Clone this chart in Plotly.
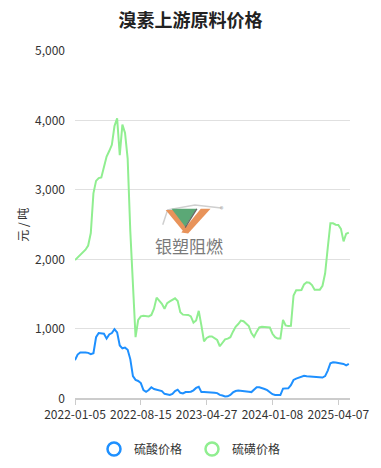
import plotly.graph_objects as go

title_text = "溴素上游原料价格"
y_axis_title = "元 / 吨"
tick_labels = ["2022-01-05", "2022-08-15", "2023-04-27", "2024-01-08", "2025-04-07"]
tick_positions = [0, 25, 50, 75, 100]
series_names = ["硫酸价格", "硫磺价格"]

sulfuric_acid = [550, 630, 660, 665, 660, 655, 635, 650, 880, 940,
                 940, 930, 860, 920, 940, 995, 950, 760, 720, 730,
                 700, 565, 320, 265, 250, 220, 120, 95, 120, 160,
                 135, 125, 120, 105, 65, 55, 50, 65, 105, 125,
                 80, 70, 90, 90, 95, 115, 150, 165, 90, 90,
                 90, 88, 85, 82, 75, 50, 40, 28, 30, 50,
                 85, 105, 112, 110, 105, 100, 95, 90, 120, 158,
                 158, 150, 135, 118, 90, 60, 48, 48, 48, 140,
                 142, 145, 190, 265, 285, 300, 310, 325, 318, 315,
                 315, 315, 310, 302, 300, 320, 400, 505, 520, 515,
                 508, 505, 495, 475, 495]

sulfur = [1990, 2030, 2060, 2100, 2140, 2200, 2380, 2950, 3130, 3170,
          3180, 3330, 3480, 3560, 3650, 3920, 4030, 3500, 3940, 3820,
          3450, 2410, 1680, 880, 1130, 1180, 1190, 1190, 1180, 1200,
          1290, 1450, 1400, 1360, 1290, 1370, 1395, 1420, 1440, 1400,
          1240, 1205, 1200, 1200, 1180, 1090, 1120, 1260, 1050, 820,
          870, 890, 890, 870, 840, 750, 810, 850, 860, 880,
          960, 1030, 1070, 1120, 1110, 1080, 1040, 940, 885, 960,
          1020, 1030, 1030, 1030, 1020, 930, 880, 860, 860, 1130,
          1050, 1040, 1045, 1480, 1555, 1555, 1560, 1640, 1670, 1665,
          1630, 1565, 1565, 1565, 1620, 1800, 2170, 2520, 2520, 2500,
          2495, 2440, 2260, 2370, 2385]

colors = ["#1E90FF", "#90EE90"]
FONT = "Noto Sans CJK SC, Noto Sans, sans-serif"

W, H = 381, 468
# plot area in pixels
L, R, T, B = 75, 357, 51, 403


def pp(x, y):
    return (x - L) / (R - L), (B - y) / (B - T)


def path(points, close=True):
    s = ""
    for k, (x, y) in enumerate(points):
        px_, py_ = pp(x, y)
        s += ("M" if k == 0 else "L") + f"{px_:.4f},{py_:.4f} "
    return s + ("Z" if close else "")


fig = go.Figure()
idx = list(range(len(sulfur)))
for name, vals, c in zip(series_names, [sulfuric_acid, sulfur], colors):
    fig.add_trace(go.Scatter(x=idx, y=vals, mode="lines", name=name,
                             line=dict(color=c, width=2), showlegend=False))
    fig.add_trace(go.Scatter(x=[None], y=[None], mode="markers", name=name,
                             marker=dict(symbol="circle-open", size=13,
                                         color=c, line=dict(width=2.5, color=c))))

shapes = []
# watermark logo
shapes.append(dict(type="path", xref="paper", yref="paper",
                   path=path([(165, 227), (170, 212), (198, 207), (225, 210)], close=False),
                   line=dict(color="#cfcfcf", width=1.5)))
shapes.append(dict(type="path", xref="paper", yref="paper",
                   path=path([(168, 212), (177, 212), (190, 229), (187, 235)]),
                   fillcolor="#E8935A", line=dict(width=0)))
shapes.append(dict(type="path", xref="paper", yref="paper",
                   path=path([(184, 235), (191, 236), (214, 211), (204, 211)]),
                   fillcolor="#E8935A", line=dict(width=0)))
shapes.append(dict(type="path", xref="paper", yref="paper",
                   path=path([(174, 211), (200, 211), (188, 229)]),
                   fillcolor="#5BA876", line=dict(width=0)))
shapes.append(dict(type="path", xref="paper", yref="paper",
                   path=path([(200, 211), (188, 230)], close=False),
                   line=dict(color="#666", width=1.2)))

ax, ay = pp(192, 248)
rx, ry = pp(226, 211)
annotations = [
    dict(text="银塑阻燃", x=ax, y=ay, xref="paper", yref="paper", showarrow=False,
         font=dict(family=FONT, size=17, color="#7a7a7a"), xanchor="center", yanchor="middle"),
    dict(text="®", x=rx, y=ry, xref="paper", yref="paper", showarrow=False,
         font=dict(family=FONT, size=7, color="#999"), xanchor="center", yanchor="middle"),
]

fig.update_layout(
    width=W, height=H,
    margin=dict(l=L, r=W - R, t=T, b=H - B),
    paper_bgcolor="white", plot_bgcolor="white",
    font=dict(family=FONT, size=12, color="#333"),
    title=dict(text=f"<b>{title_text}</b>", x=190.5 / W, xref="container", xanchor="center",
               y=1 - 21 / H, yref="container", yanchor="middle",
               font=dict(family=FONT, size=18, color="#222")),
    xaxis=dict(range=[0, (R - L) / 2.7], tickmode="array", tickvals=tick_positions,
               ticktext=tick_labels, showgrid=False, zeroline=False,
               showline=True, linecolor="#cccccc", linewidth=1.5,
               ticks="outside", ticklen=5, tickcolor="#cccccc",
               tickfont=dict(family=FONT, size=12, color="#333")),
    yaxis=dict(range=[0, 5000], tickvals=[0, 1000, 2000, 3000, 4000, 5000],
               tickformat=",d", showgrid=True, gridcolor="#e0e0e0", gridwidth=1,
               zeroline=False, showline=False, ticks="", ticklabelstandoff=9,
               tickfont=dict(family=FONT, size=12, color="#333"),
               title=dict(text=y_axis_title, standoff=3,
                          font=dict(family=FONT, size=12, color="#333"))),
    legend=dict(orientation="h", x=192 / W, xref="container", xanchor="center",
                y=1 - 449 / H, yref="container", yanchor="middle",
                font=dict(family=FONT, size=12, color="#333"),
                itemsizing="trace", itemwidth=30, traceorder="normal",
                entrywidth=53, entrywidthmode="pixels"),
    shapes=shapes,
    annotations=annotations,
    showlegend=True,
)

fig.write_html("out.html", config={"displayModeBar": False},
               post_script="document.body.style.margin='0';")
